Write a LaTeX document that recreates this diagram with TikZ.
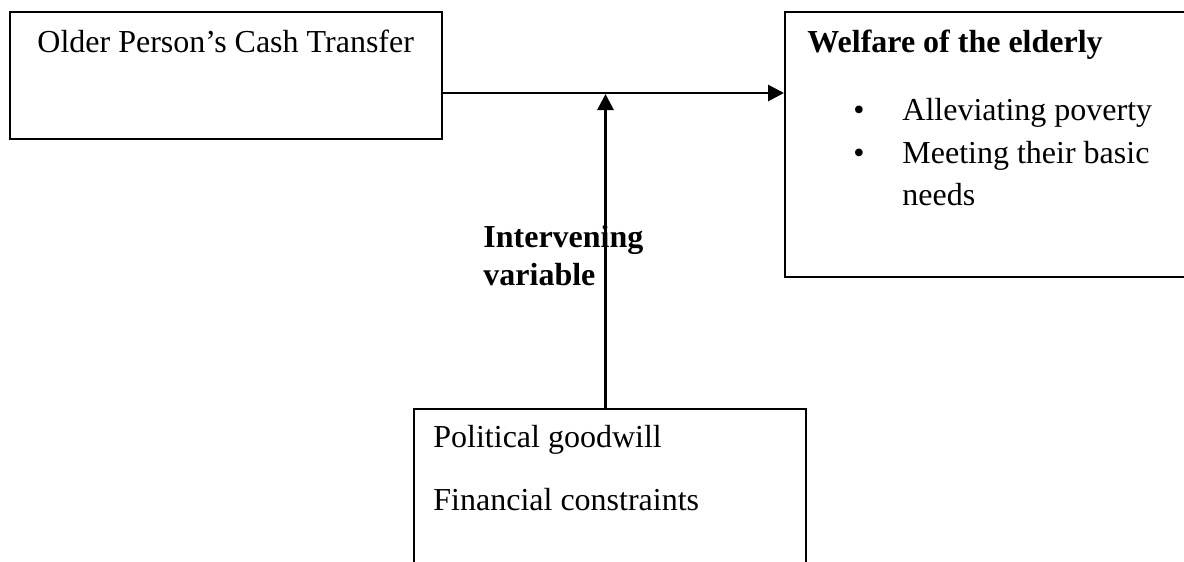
\documentclass[tikz,border=0pt]{standalone}
\usepackage{fontspec}
\setmainfont{Liberation Serif}
\usetikzlibrary{arrows.meta}
\begin{document}
\begin{tikzpicture}[x=0.5pt,y=-0.5pt,
  box/.style={draw, line width=0.9pt, rectangle, inner sep=0pt, anchor=north west},
  txt/.style={anchor=base west, inner sep=0pt, font=\fontsize{16}{19}\selectfont},
  btxt/.style={txt, font=\fontsize{16}{19}\selectfont\bfseries},
  conn/.style={line width=1.4pt, -{Triangle[length=8pt,width=8pt]}}]
\useasboundingbox (0,0) rectangle (1184,562);
% boxes
\node[box, minimum width=216pt, minimum height=63.5pt] (older) at (9,11) {};
\node[box, minimum width=210pt, minimum height=132.5pt] (welfare) at (784,11) {};
\node[box, minimum width=196pt, minimum height=100pt] (factors) at (413,408) {};
% texts
\node[txt] (t1) at (37,52) {Older Person’s Cash Transfer};
\node[btxt] (t2) at (807,52) {Welfare of the elderly};
\node[txt] (b1) at (853,120) {•};
\node[txt] (t3) at (902,120) {Alleviating poverty};
\node[txt] (b2) at (853,163) {•};
\node[txt] (t4) at (902,163) {Meeting their basic};
\node[txt] (t5) at (902,205) {needs};
\node[btxt] (t6) at (483,247) {Intervening};
\node[btxt] (t7) at (483,285) {variable};
\node[txt] (t8) at (433,447) {Political goodwill};
\node[txt] (t9) at (433,510) {Financial constraints};
% connectors
\coordinate (hy) at (0,93);
\coordinate (vx) at (605.5,0);
\coordinate (vtop) at (605.5,94);
\draw[conn] (older.east |- hy) -- (welfare.west |- hy);
\draw[conn] (factors.north -| vx) -- (vtop);
\end{tikzpicture}
\end{document}
